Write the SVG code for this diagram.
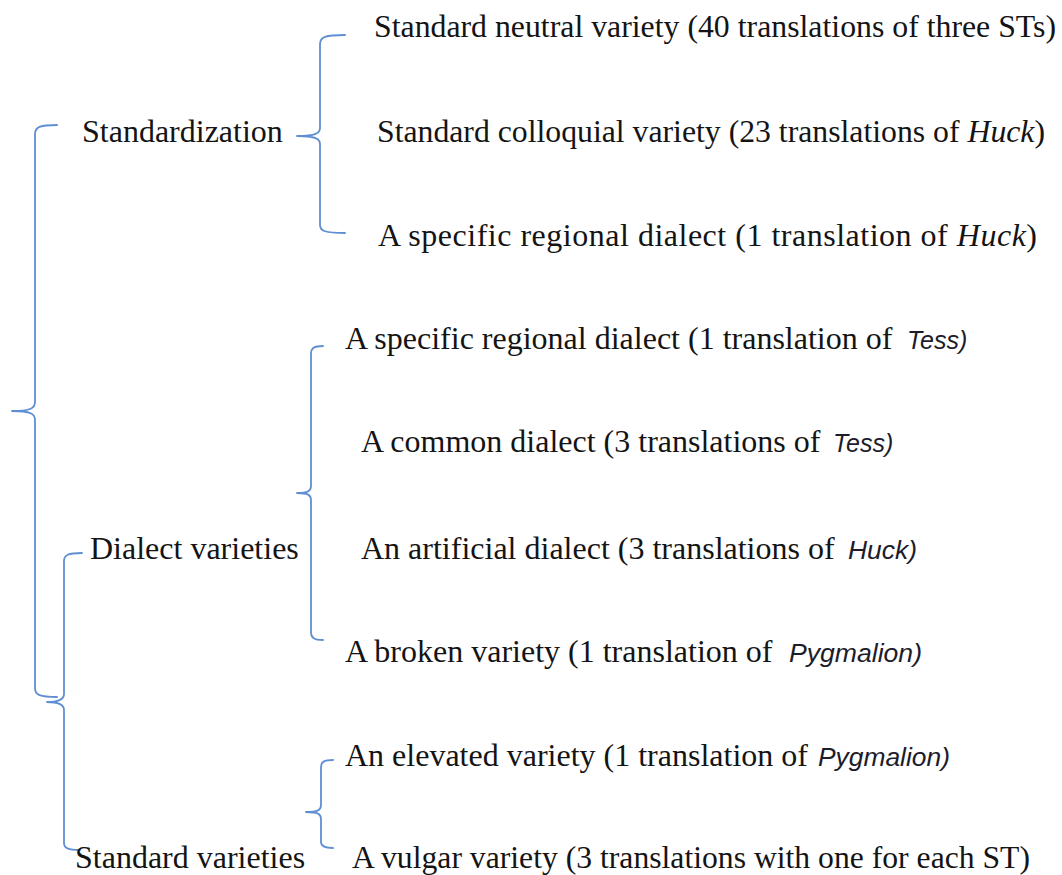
<svg xmlns="http://www.w3.org/2000/svg" width="1062" height="875" viewBox="0 0 1062 875">
  <style>
    .brace { fill: none; stroke: #5f8fd2; stroke-width: 1.8; stroke-linecap: round; stroke-linejoin: round; }
    .lbl { font-family: "Liberation Serif", "Times New Roman", serif; font-size: 32px; fill: #141414; }
    .it { font-style: italic; }
    .sans { font-family: "Liberation Sans", Arial, sans-serif; font-style: italic; font-size: 25px; fill: #1c1c2a; }
  </style>
  <rect width="1062" height="875" fill="#ffffff"/>

  <!-- brace connectors -->
  <g id="connectors">
    <!-- root brace: Standardization / Standard varieties -->
    <path class="brace" d="M57,125 C40,125 35,127 35,134 L35,402 C35,408 31,411 12,411 C31,411 35,414 35,420 L35,688 C35,695 40,697 57,697"/>
    <!-- Dialect varieties / Standard varieties -->
    <path class="brace" d="M82,553 C68,553 64,555 64,561 L64,694 C64,699 60,702 47,702 C60,702 64,705 64,710 L64,843 C64,848 68,850 80,850"/>
    <!-- Standardization branches -->
    <path class="brace" d="M345,35 C325,35 320,37 320,44 L320,128 C320,133 316,136 297,136 C316,136 320,139 320,144 L320,225 C320,231 325,233 345,233"/>
    <!-- Dialect varieties branches -->
    <path class="brace" d="M323,346 C314,346 311,348 311,354 L311,486 C311,491 308,493 297,493 C308,493 311,495 311,500 L311,632 C311,638 314,640 323,640"/>
    <!-- Standard varieties branches -->
    <path class="brace" d="M333,760 C324,760 321,762 321,767 L321,805 C321,810 318,812 306,812 C318,812 321,814 321,819 L321,842 C321,846 324,848 333,848"/>
  </g>

  <!-- category nodes -->
  <g id="node-standardization">
    <text class="lbl" x="82" y="142">Standardization</text>
  </g>
  <g id="node-dialect-varieties">
    <text class="lbl" x="90" y="559">Dialect varieties</text>
  </g>
  <g id="node-standard-varieties">
    <text class="lbl" x="75" y="868">Standard varieties</text>
  </g>

  <!-- leaf nodes -->
  <g id="node-standard-neutral">
    <text class="lbl" x="374" y="37" textLength="682" lengthAdjust="spacingAndGlyphs">Standard neutral variety (40 translations of three STs)</text>
  </g>
  <g id="node-standard-colloquial">
    <text class="lbl" x="377" y="142" textLength="668" lengthAdjust="spacingAndGlyphs">Standard colloquial variety (23 translations of <tspan class="it">Huck</tspan>)</text>
  </g>
  <g id="node-regional-huck">
    <text class="lbl" x="378" y="246" textLength="659" lengthAdjust="spacing">A specific regional dialect (1 translation of <tspan class="it">Huck</tspan>)</text>
  </g>
  <g id="node-regional-tess">
    <text class="lbl" x="345" y="349">A specific regional dialect (1 translation of </text>
    <text class="sans" x="907" y="349">Tess)</text>
  </g>
  <g id="node-common-dialect">
    <text class="lbl" x="361" y="452">A common dialect (3 translations of </text>
    <text class="sans" x="833" y="452">Tess)</text>
  </g>
  <g id="node-artificial-dialect">
    <text class="lbl" x="361" y="559">An artificial dialect (3 translations of </text>
    <text class="sans" x="848" y="559" textLength="69" lengthAdjust="spacingAndGlyphs">Huck)</text>
  </g>
  <g id="node-broken-variety">
    <text class="lbl" x="345" y="662">A broken variety (1 translation of </text>
    <text class="sans" x="789" y="662" textLength="133" lengthAdjust="spacingAndGlyphs">Pygmalion)</text>
  </g>
  <g id="node-elevated-variety">
    <text class="lbl" x="345" y="766">An elevated variety (1 translation of </text>
    <text class="sans" x="818" y="766" textLength="132" lengthAdjust="spacingAndGlyphs">Pygmalion)</text>
  </g>
  <g id="node-vulgar-variety">
    <text class="lbl" x="352" y="868" textLength="678" lengthAdjust="spacingAndGlyphs">A vulgar variety (3 translations with one for each ST)</text>
  </g>
</svg>
